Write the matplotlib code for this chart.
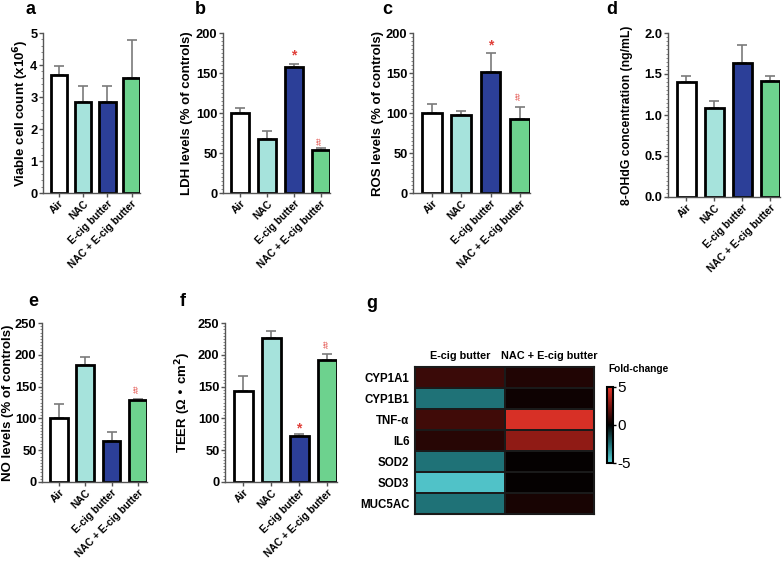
import numpy as np
import matplotlib
matplotlib.use("Agg")
import matplotlib.pyplot as plt
from matplotlib.colors import LinearSegmentedColormap
from matplotlib.ticker import AutoMinorLocator

plt.rcParams['font.family'] = ['Liberation Sans', 'DejaVu Sans']
plt.rcParams['font.weight'] = 'bold'

# Data
groups = ["Air", "NAC", "E-cig butter", "NAC + E-cig butter"]
bar_colors = ["#ffffff", "#a6e3dc", "#2c3f98", "#6dd28e"]

viable_mean = [3.70, 2.85, 2.85, 3.58]
viable_err = [0.28, 0.50, 0.50, 1.20]
ldh_mean = [100, 68, 158, 54]
ldh_err = [6, 9, 3, 2]
ros_mean = [100, 97, 151, 93]
ros_err = [11, 5, 24, 15]
ohdg_mean = [1.40, 1.09, 1.63, 1.42]
ohdg_err = [0.08, 0.08, 0.22, 0.05]
no_mean = [100, 184, 64, 129]
no_err = [23, 13, 15, 2]
teer_mean = [143, 226, 72, 192]
teer_err = [24, 11, 3, 10]

genes = ["CYP1A1", "CYP1B1", "TNF-α", "IL6", "SOD2", "SOD3", "MUC5AC"]
heat_cols = ["E-cig butter", "NAC + E-cig butter"]
fold_ecig = [1.2, -2.6, 1.3, 0.8, -2.6, -4.5, -2.6]
fold_nac_ecig = [0.7, 0.3, 4.6, 3.0, 0.1, 0.1, 0.5]

W, H = 784, 564


def px(l, t, r, b):
    return [l / W, 1 - b / H, (r - l) / W, (b - t) / H]


fig = plt.figure(figsize=(W / 100, H / 100), dpi=100)


def bar_panel(box, means, errs, ylabel, ymax, step, nminor, fmt, label_x,
              marks=None, ylabel_size=9.5):
    ax = fig.add_axes(px(*box))
    x = np.arange(len(groups))
    ax.errorbar(x, means, yerr=[np.zeros(len(errs)), errs], fmt='none',
                ecolor='#7a7a7a', elinewidth=1.2, capsize=3.5, capthick=1.2, zorder=1)
    ax.bar(x, means, width=0.68, color=bar_colors, edgecolor='black', linewidth=2, zorder=2)
    ax.set_xlim(-0.65, 3.35)
    ax.set_ylim(0, ymax)
    ticks = np.arange(0, ymax + step / 2, step)
    ax.set_yticks(ticks)
    ax.set_yticklabels([fmt.format(v) for v in ticks], fontsize=9.3, fontweight='bold')
    ax.yaxis.set_minor_locator(AutoMinorLocator(nminor))
    ax.set_xticks(x)
    ax.set_xticklabels(groups, rotation=45, ha='right', rotation_mode='anchor',
                       fontsize=7.4, fontweight='bold')
    for s in ['top', 'right']:
        ax.spines[s].set_visible(False)
    for s in ['left', 'bottom']:
        ax.spines[s].set_color('#555555')
        ax.spines[s].set_linewidth(1.0)
    ax.tick_params(axis='both', which='major', length=3, width=1, color='#555555', pad=1)
    ax.tick_params(axis='y', which='minor', length=1.8, width=0.6, color='#777777')
    ax.set_ylabel(ylabel, fontsize=ylabel_size, fontweight='bold')
    # place the y label centre at a fixed pixel column
    ax.yaxis.set_label_coords((label_x - box[0]) / (box[2] - box[0]), 0.5)
    ax.yaxis.label.set_va('center')
    if marks:
        for i, (txt, yv) in marks.items():
            if txt == '*':
                ax.text(i, yv, '*', color='#e0403a', ha='center', va='center',
                        fontsize=10, fontweight='bold')
            else:
                ax.text(i, yv, '##', color='#e0403a', ha='center', va='center',
                        fontsize=5.5, rotation=90, fontweight='normal')
    return ax


bar_panel((43, 33, 140, 193), viable_mean, viable_err, "Viable cell count (x10$^{\\mathbf{6}}$)",
          5, 1, 5, "{:.0f}", 21)
bar_panel((223, 33, 330, 193), ldh_mean, ldh_err, "LDH levels (% of controls)",
          200, 50, 10, "{:.0f}", 187, marks={2: ('*', 172), 3: ('##', 65)})
bar_panel((413, 33, 530, 193), ros_mean, ros_err, "ROS levels (% of controls)",
          200, 50, 10, "{:.0f}", 378, marks={2: ('*', 184), 3: ('##', 121)})
bar_panel((668, 33, 780, 197), ohdg_mean, ohdg_err, "8-OHdG concentration (ng/mL)",
          2.0, 0.5, 10, "{:.1f}", 627, ylabel_size=8.8)
bar_panel((42, 323, 147, 482), no_mean, no_err, "NO levels (% of controls)",
          250, 50, 10, "{:.0f}", 8, marks={3: ('##', 147)})
bar_panel((225, 323, 337, 482), teer_mean, teer_err, "TEER (Ω • cm$^{\\mathbf{2}}$)",
          250, 50, 10, "{:.0f}", 183, marks={2: ('*', 84), 3: ('##', 218)})

# Heatmap panel g
cmap = LinearSegmentedColormap.from_list(
    "fold", ["#5cd6dc", "#1c6d72", "#000000", "#7a1410", "#e8352a"])
hax = fig.add_axes(px(415, 367, 594, 514))
vals = np.array([fold_ecig, fold_nac_ecig]).T
mesh = hax.pcolormesh(vals, cmap=cmap, vmin=-5, vmax=5, edgecolors='#1a1a1a', linewidth=1.2)
hax.set_ylim(len(genes), 0)
hax.set_xlim(0, 2)
hax.set_yticks(np.arange(len(genes)) + 0.5)
hax.set_yticklabels(genes, fontsize=8.3, fontweight='bold')
hax.set_xticks([0.5, 1.5])
hax.set_xticklabels(heat_cols, fontsize=7.8, fontweight='bold')
hax.xaxis.tick_top()
hax.tick_params(length=0, pad=4)
for s in hax.spines.values():
    s.set_color('#1a1a1a')
    s.set_linewidth(1.5)

cax = fig.add_axes(px(607, 387, 613, 463))
cb = fig.colorbar(mesh, cax=cax, ticks=[-5, 0, 5])
cb.ax.set_yticklabels(["-5", "0", "5"], fontsize=11, fontweight='normal')
cb.ax.tick_params(length=2, width=1, pad=1)
cb.outline.set_linewidth(1.5)
fig.text(608 / W, 1 - 369 / H, "Fold-change", fontsize=7.3, fontweight='bold', va='center')

# Panel letters
for letter, (lx, ly) in {"a": (30, 9), "b": (200, 9), "c": (387, 9), "d": (612, 9),
                         "e": (33, 301), "f": (183, 301), "g": (372, 304)}.items():
    fig.text(lx / W, 1 - ly / H, letter, fontsize=13, fontweight='bold', ha='center', va='center')

fig.savefig("out.png", dpi=100)
